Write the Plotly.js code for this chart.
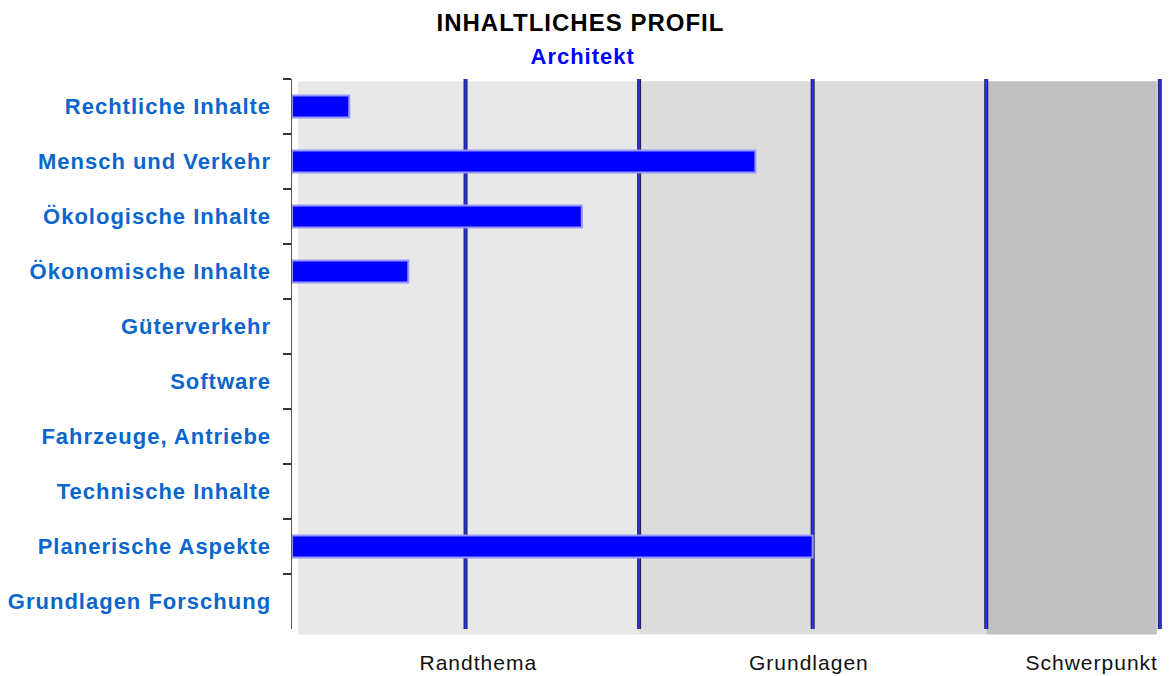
<!DOCTYPE html>
<html>
<head>
<meta charset="utf-8">
<script src="https://cdn.plot.ly/plotly-3.0.1.min.js"></script>
<style>
  html, body { margin: 0; padding: 0; background: #fff; }
  #chart { width: 1170px; height: 676px; }
  #chart text { letter-spacing: 1px; }
</style>
</head>
<body>
<div id="chart"></div>
<script>
// ---- data ----
const chartTitle = "INHALTLICHES PROFIL";
const chartSubtitle = "Architekt";
const categories = [
  "Rechtliche Inhalte",
  "Mensch und Verkehr",
  "Ökologische Inhalte",
  "Ökonomische Inhalte",
  "Güterverkehr",
  "Software",
  "Fahrzeuge, Antriebe",
  "Technische Inhalte",
  "Planerische Aspekte",
  "Grundlagen Forschung"
];
const values = [0.33, 2.67, 1.67, 0.67, 0, 0, 0, 0, 3.0, 0];
const zoneLabels = ["Randthema", "Grundlagen", "Schwerpunkt"];
const gridLines = [1, 2, 3, 4, 5];

// ---- layout helpers ----
const zoneSpans = [[0.035, 2], [2, 4], [4, 4.983]];
const zoneColors = ["#e8e8e8", "#dcdcdc", "#c0c0c0"];
const zoneLabelX = [1.074, 2.978, 4.608];

const shapes = [];
zoneSpans.forEach((s, i) => {
  shapes.push({
    type: "rect", layer: "below", xref: "x", yref: "paper",
    x0: s[0], x1: s[1], y0: -0.01, y1: 0.996,
    fillcolor: zoneColors[i], line: { width: 0 }
  });
});
gridLines.forEach(v => {
  shapes.push({
    type: "line", layer: "below", xref: "x", yref: "paper",
    x0: v, x1: v, y0: 0, y1: 1,
    line: { color: "#20204a", width: 4 }
  });
  shapes.push({
    type: "line", layer: "below", xref: "x", yref: "paper",
    x0: v, x1: v, y0: 0, y1: 1,
    line: { color: "#2e2eff", width: 2 }
  });
});

const annotations = [
  {
    text: chartTitle, xref: "paper", yref: "paper",
    x: 0.3306, y: 1.102, xanchor: "center", yanchor: "middle", showarrow: false,
    font: { family: "Liberation Sans, Arial, sans-serif", size: 24, color: "#000000", weight: 700 }
  },
  {
    text: chartSubtitle, xref: "paper", yref: "paper",
    x: 0.3330, y: 1.041, xanchor: "center", yanchor: "middle", showarrow: false,
    font: { family: "Liberation Sans, Arial, sans-serif", size: 22, color: "#0000ff", weight: 700 }
  }
];
zoneLabels.forEach((t, i) => {
  annotations.push({
    text: t, xref: "x", yref: "paper",
    x: zoneLabelX[i], y: -0.06, xanchor: "center", yanchor: "middle", showarrow: false,
    font: { family: "Liberation Sans, Arial, sans-serif", size: 21, color: "#111111" }
  });
});

const trace = {
  type: "bar",
  orientation: "h",
  y: categories,
  x: values.map(v => (v > 0 ? v : null)),
  width: 0.4,
  marker: { color: "#0000ff", line: { color: "rgba(150,150,255,1)", width: 2 } },
  hoverinfo: "x+y"
};

const layout = {
  width: 1170, height: 676,
  margin: { l: 292, r: 5, t: 79, b: 47, pad: 0 },
  paper_bgcolor: "#ffffff",
  plot_bgcolor: "rgba(0,0,0,0)",
  showlegend: false,
  bargap: 0.6,
  xaxis: {
    range: [0, 5.03], showgrid: false, zeroline: false, showticklabels: false,
    ticks: "", showline: false, fixedrange: true
  },
  yaxis: {
    type: "category",
    categoryorder: "array", categoryarray: categories,
    range: [9.5, -0.5],
    showgrid: false, zeroline: false,
    showline: true, linecolor: "#555555", linewidth: 1.5,
    ticks: "outside", tickson: "boundaries", ticklen: 8, tickwidth: 1.5, tickcolor: "#333333",
    ticklabelstandoff: 15,
    tickfont: { family: "Liberation Sans, Arial, sans-serif", size: 22, color: "#0a66cc", weight: 700 },
    fixedrange: true
  },
  shapes: shapes,
  annotations: annotations
};

Plotly.newPlot("chart", [trace], layout, { displayModeBar: false, staticPlot: true });
</script>
</body>
</html>
